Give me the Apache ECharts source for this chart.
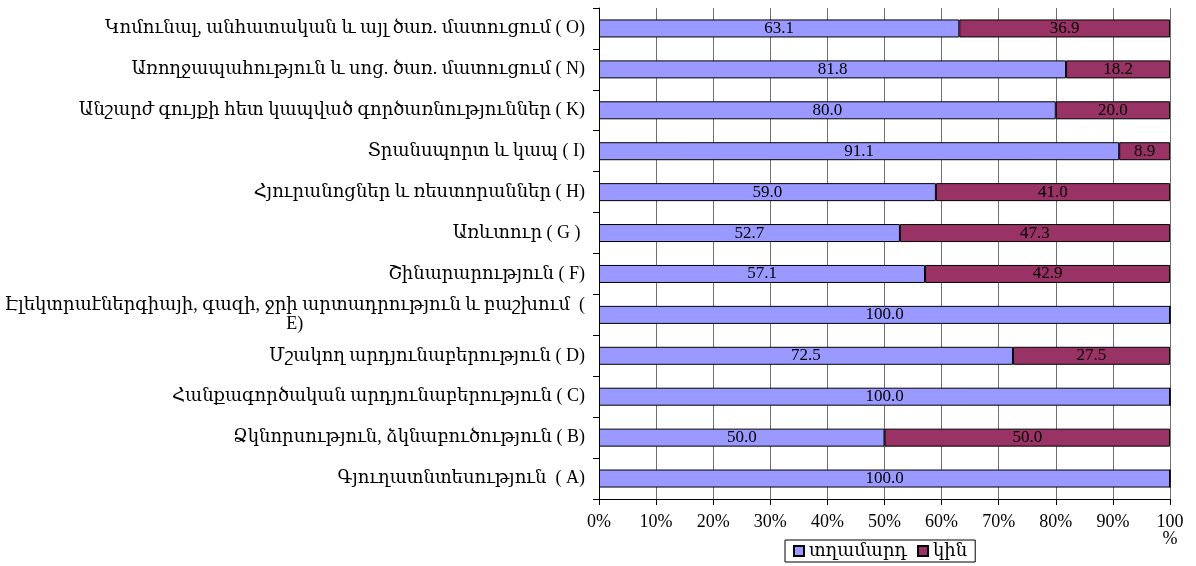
<!DOCTYPE html>
<html>
<head>
<meta charset="utf-8">
<script src="https://cdn.jsdelivr.net/npm/echarts@6/dist/echarts.min.js"></script>
<style>
html,body{margin:0;padding:0;background:#fff;}
#chart{width:1196px;height:566px;}
</style>
</head>
<body>
<div id="chart"></div>
<script>
// Categories listed bottom to top (ECharts category axis starts at bottom)
const categories = [
  "Գյուղատնտեսություն  ( A)",
  "Ձկնորսություն, ձկնաբուծություն ( B)",
  "Հանքագործական արդյունաբերություն ( C)",
  "Մշակող արդյունաբերություն ( D)",
  "Էլեկտրաէներգիայի, գազի, ջրի արտադրություն և բաշխում  (\nE)",
  "Շինարարություն ( F)",
  "Առևտուր ( G ) ",
  "Հյուրանոցներ և ռեստորաններ ( H)",
  "Տրանսպորտ և կապ ( I)",
  "Անշարժ գույքի հետ կապված գործառնություններ ( K)",
  "Առողջապահություն և սոց. ծառ. մատուցում ( N)",
  "Կոմունալ, անհատական և այլ ծառ. մատուցում ( O)"
];
const seriesNames = ["տղամարդ", "կին"];
const menValues   = [100.0, 50.0, 100.0, 72.5, 100.0, 57.1, 52.7, 59.0, 91.1, 80.0, 81.8, 63.1];
const womenValues = [0.0, 50.0, 0.0, 27.5, 0.0, 42.9, 47.3, 41.0, 8.9, 20.0, 18.2, 36.9];
const xTickLabels = ["0%", "10%", "20%", "30%", "40%", "50%", "60%", "70%", "80%", "90%", "100\n%"];

const FONT = "'Liberation Serif', 'DejaVu Serif', serif";
const chart = echarts.init(document.getElementById('chart'), null, {renderer: 'canvas'});

function catLabel(v) {
  if (v.indexOf('\n') >= 0) {
    const parts = v.split('\n');
    return '{a|' + parts[0] + '}\n{b|' + parts[1] + '}';
  }
  return '{a|' + v + '}';
}

const barLabel = {
  show: true,
  position: 'inside',
  color: '#000',
  fontFamily: FONT,
  fontSize: 17,
  formatter: p => (p.value > 0 ? p.value.toFixed(1) : '')
};

chart.setOption({
  animation: false,
  backgroundColor: '#fff',
  textStyle: {fontFamily: FONT},
  grid: {left: 599, right: 26, top: 8, bottom: 67, containLabel: false},
  legend: {
    data: seriesNames,
    left: 785,
    top: 540,
    itemWidth: 10,
    itemHeight: 10,
    itemGap: 10,
    padding: [2, 8, 2, 8],
    borderColor: '#000',
    borderWidth: 1,
    icon: 'rect',
    textStyle: {fontFamily: FONT, fontSize: 18, color: '#000'}
  },
  xAxis: {
    type: 'value',
    min: 0,
    max: 100,
    interval: 10,
    axisLine: {show: true, lineStyle: {color: '#000', width: 1}},
    axisTick: {show: true, length: 6, lineStyle: {color: '#000'}},
    splitLine: {show: true, lineStyle: {color: '#707070', width: 1}},
    axisLabel: {
      fontFamily: FONT,
      fontSize: 18,
      color: '#000',
      margin: 15,
      lineHeight: 17,
      formatter: (v) => xTickLabels[Math.round(v / 10)]
    }
  },
  yAxis: {
    type: 'category',
    data: categories,
    axisLine: {show: true, lineStyle: {color: '#000', width: 1}},
    axisTick: {show: true, length: 6, lineStyle: {color: '#000'}},
    splitLine: {show: false},
    axisLabel: {
      fontFamily: FONT,
      fontSize: 18,
      color: '#000',
      margin: 14,
      align: 'right',
      formatter: catLabel,
      rich: {
        a: {fontFamily: FONT, fontSize: 18, color: '#000', lineHeight: 19, align: 'right'},
        b: {fontFamily: FONT, fontSize: 18, color: '#000', lineHeight: 19, align: 'center'}
      }
    }
  },
  series: [
    {
      name: seriesNames[0],
      type: 'bar',
      stack: 'total',
      data: menValues,
      barWidth: 18,
      itemStyle: {color: '#9999FF', borderColor: '#000', borderWidth: 1},
      label: barLabel
    },
    {
      name: seriesNames[1],
      type: 'bar',
      stack: 'total',
      data: womenValues,
      barWidth: 18,
      itemStyle: {color: '#993366', borderColor: '#000', borderWidth: 1},
      label: barLabel
    }
  ]
});
</script>
</body>
</html>
